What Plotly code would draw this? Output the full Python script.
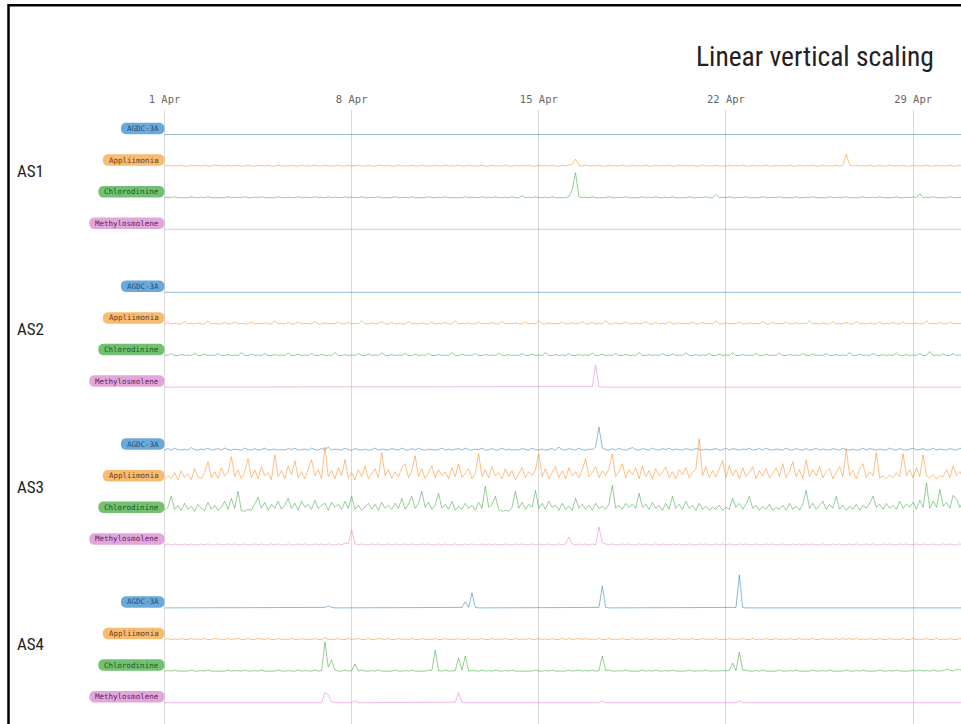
import plotly.graph_objects as go
import pandas as pd

# ---------------- data ----------------
START = "2016-04-01 00:00"
N_POINTS = 240
STEP = "3h"

GROUPS = ["AS1", "AS2", "AS3", "AS4"]
CHEMICALS = ["AGDC-3A", "Appliimonia", "Chlorodinine", "Methylosmolene"]
TICK_VALUES = ["2016-04-01", "2016-04-08", "2016-04-15", "2016-04-22", "2016-04-29"]
TICK_LABELS = ["1 Apr", "8 Apr", "15 Apr", "22 Apr", "29 Apr"]
TITLE = "Linear vertical scaling"

AS1_AGDC = [
    0,0,0,0,0,0,0,0,0,0,0,0,0,0,0,0,0,0,0,0,0,0,0,0,
    0,0,0,0,0,0,0,0,0,0,0,0,0,0,0,0,0,0,0,0,0,0,0,0,
    0,0,0,0,0,0,0,0,0,0,0,0,0,0,0,0,0,0,0,0,0,0,0,0,
    0,0,0,0,0,0,0,0,0,0,0,0,0,0,0,0,0,0,0,0,0,0,0,0,
    0,0,0,0,0,0,0,0,0,0,0,0,0,0,0,0,0,0,0,0,0,0,0,0,
    0,0,0.5,0,0,0,0,0,0,0,0,0,0,0,0,0,0,0,0,0,0,0,0,0,
    0,0,0,0,0,0,0,0,0,0,0,0,0,0,0,0,0,0,0,0,0,0,0,0,
    0,0,0,0,0,0,0,0,0,0,0,0,0,0,0,0,0,0,0,0,0,0,0,0,
    0,0,0,0,0,0,0,0,0,0,0,0,0,0,0,0,0,0,0,0,0,0,0,0,
    0,0,0,0,0,0,0,0,0,0,0,0,0,0,0,0,0,0,0,0,0,0,0,0,
]
AS1_APPL = [
    0,1,0,0.5,0,1,0,0,1,0,0.5,0,1,0,0,1,0.5,0,0,1,0,0.5,1,0,
    0,1,0,0,1,0.5,0,1,0,0,1,0,0.5,0,1,0,0,1,0,0.5,0,1,0,0,
    1,0,0.5,0,1,0,0,1,0,0.5,1,0,0,1,0,0,1,0.5,0,1,0,0,1,0,
    0.5,0,1,0,0,1,0,0.5,0,1,0,0,1,0,0.5,0,1,0,0,1,0,0.5,0,1,
    0,0,1,0,0.5,0,1,0,0,1,0,0.5,0,1,0,0,1,0,0.5,0,1,0,0,1,
    0,1,2,7,1,0,1,0,0.5,0,1,0,0,1,0,0.5,0,1,0,0,1,0,0.5,0,
    1,0,0,1,0,0.5,0,1,0,0,1,0,0.5,0,1,0,0,1,0,0.5,0,1,0,0,
    0,1,0,0.5,0,1,0,0,1,0,0.5,0,1,0,0,1,0,0.5,0,1,0,0,1,0,
    0.5,0,1,0,0,1,0,0.5,0,1,0,1,12,1,0,1,0,0.5,0,1,0,0,1,0,
    0,1,0,0.5,0,1,0,0,1,0,0.5,0,1,0,0,1,0,0.5,0,1,0,0,1,0,
]
AS1_CHLO = [
    0,0.5,0,1,0,0,0.5,0,1,0,0,0.5,0,1,0,0,0.5,0,0,1,0,0.5,0,0,
    1,0,0,0.5,0,1,0,0,0.5,0,1,0,0,0.5,0,0,1,0,0.5,0,0,1,0,0.5,
    0,1,0,0.5,0,0,1,0,0.5,0,0,1,0,0,0.5,0,1,0,0,0.5,0,1,0,0,
    0.5,0,1,0,0,0.5,0,1,0,0,0.5,0,1,0,0,0.5,0,0,1,0,0.5,0,0,1,
    0,0.5,0,1,0,0,0.5,0,1,0,0,2,0,0.5,0,1,0,0,0.5,0,1,0,0,0.5,
    0,1,8,25,1,0,0.5,0,1,0,0,0.5,0,1,0,0,0.5,0,1,0,0,0.5,0,1,
    0,0.5,0,1,0,0,0.5,0,1,0,0,0.5,0,1,0,0,0.5,0,1,0,0,3,0,0.5,
    0,1,0,0,0.5,0,1,0,0,0.5,0,1,0,0,0.5,0,1,0,0,0.5,0,1,0,0,
    0.5,0,1,0,0,0.5,0,1,0,0,0.5,0,1,0,0,0.5,0,1,0,0,0.5,0,1,0,
    0,0.5,0,1,0,0,0.5,0,1,0,4,0,0.5,0,1,0,0,0.5,0,1,0,0,0.5,0,
]
AS1_METH = [
    0,0,0,0,0,0,0,0,0,0,0,0,0,0,0,0,0,0,0,0,0,0,0,0,
    0,0,0,0,0,0,0,0,0,0,0,0,0,0,0,0,0,0,0,0,0,0,0,0,
    0,0,0,0,0,0,0,0,0,0,0,0,0,0,0,0,0,0,0,0,0,0,0,0,
    0,0,0,0,0,0,0,0,0,0,0,0,0,0,0,0,0,0,0,0,0,0,0,0,
    0,0,0,0,0,0,0,0,0,0,0,0,0,0,0,0,0,0,0,0,0,0,0,0,
    0,0,0,0,0,0,0,0,0,0,0,0,0,0,0,0,0,0,0,0,0,0,0,0,
    0,0,0,0,0,0,0,0,0,0,0,0,0,0,0,0,0,0,0,0,0,0,0,0,
    0,0,0,0,0,0,0,0,0,0,0,0,0,0,0,0,0,0,0,0,0,0,0,0,
    0,0,0,0,0,0,0,0,0,0,0,0,0,0,0,0,0,0,0,0,0,0,0,0,
    0,0,0,0,0,0,0,0,0,0,0,0,0,0,0,0,0,0,0,0,0,0,0,0,
]

AS2_AGDC = [
    0,0,0,0,0,0,0,0,0,0,0,0,0.5,0,0,0,0,0,0,0,0,0,0,0,
    0,0,0,0,0,0,0,0,0,0,0,0,0,0,0,0,0,0,0,0,0,0.5,0,0,
    0,0,0,0,0,0,0,0,0,0,0,0,0,0,0,0,0,0,0,0,0,0,0,0,
    0,0,0,0,0,0,0,0,0.5,0,0,0,0,0,0,0,0,0,0,0,0,0,0,0,
    0,0,0,0,0,0,0,0,0,0,0,0,0,0,0,0,0,0,0,0,0,0,0,0,
    0,0,0,0,0,0,0,0,0,0,0.5,0,0,0,0,0,0,0,0,0,0,0,0,0,
    0,0,0,0,0,0,0,0,0,0,0,0,0,0,0,0,0,0,0,0,0,0,0,0,
    0,0,0,0,0,0,0,0,0,0,0,0,0,0,0,0,0,0,0,0.5,0,0,0,0,
    0,0,0,0,0,0,0,0,0,0,0,0,0,0,0,0,0,0,0,0,0,0,0,0,
    0,0,0,0,0,0,0,0.5,0,0,0,0,0,0,0,0,0,0,0,0,0,0,0,0,
]
AS2_APPL = [
    0,1.5,0,0.5,0,0,2.5,0,0.5,0,1,0,0,3,0,0.5,0,0,1.5,0,0,2,0,0.5,
    0,0,2,0,0.5,0,1,0,0,3,0,0.5,0,1.5,0,0,2,0,0.5,0,0,2.5,0,0,
    1,0,0.5,0,2,0,0,1.5,0,0.5,0,3.5,0,0,1,0,0.5,2,0,0,1.5,0,0.5,0,
    0,2.5,0,0.5,0,1,0,0,2,0,0.5,0,1.5,0,0,3,0,0.5,0,1,0,0,2,0,
    0.5,0,1.5,0,0,2.5,0,0.5,0,1,0,0,2,0,0.5,0,3,0,0,1,0,0.5,0,2,
    0,0,1,0,0.5,2,0,0,1.5,0,0.5,0,3,0,0,1,0,0.5,2,0,0,1,0,0.5,
    2,0,0,1.5,0,0.5,0,2.5,0,0,1,0,0.5,0,2,0,0,1.5,0,0.5,0,3,0,0,
    1,0,0.5,0,2,0,0,1,0,0.5,0,2.5,0,0,1.5,0,0.5,0,2,0,0,1,0,0.5,
    0,3,0,0.5,0,1,0,0,2,0,0.5,0,1.5,0,0,2.5,0,0.5,0,1,0,0,2,0,
    0.5,0,1.5,0,0,2,0,0.5,0,1,0,0,3,0,0.5,0,1.5,0,0,2,0,0.5,0,1,
]
AS2_CHLO = [
    0.5,0,2,0,0,1,0,0.5,0,2.5,0,0,1.5,0,0.5,0,2,0,0,1,0,0.5,0,3,
    0,0,1.5,0,0.5,0,2,0,0,1,0,0.5,0,2.5,0,0,1.5,0,0.5,0,2,0,0,1,
    0,0.5,0,3,0,0,1,0,0.5,0,2,0,0,1.5,0,0.5,0,2.5,0,0,1,0,0.5,0,
    2,0,0,1.5,0,0.5,0,2,0,0,1,0,0.5,0,3,0,0,1.5,0,0.5,0,2,0,0,
    1,0,0.5,0,2.5,0,0,1,0,0.5,0,2,0,0,1.5,0,0.5,0,3,0,0,1,0,0.5,
    0,2,0,0,1,0,0.5,0,2.5,0,0,1.5,0,0.5,0,2,0,0,1,0,0.5,0,3,0,
    0,1,0,0.5,0,2,0,0,1.5,0,0.5,0,2.5,0,0,1,0,0.5,0,2,0,0,1.5,0,
    0.5,0,3,0,0,1,0,0.5,0,2,0,0,1.5,0,0.5,0,2.5,0,0,1,0,0.5,0,2,
    0,0,1.5,0,0.5,0,2,0,0,1,0,0.5,0,3,0,0,1.5,0,0.5,0,2,0,0,1,
    0,0.5,0,2.5,0,0,1,0,0.5,0,2,0,0,4,0,0.5,0,1.5,0,0,2,0,0.5,0,
]
AS2_METH = [
    0,0,0,0,0,0,0,0,0,0,0,0,0,0,0,0,0,0,0,0,0,0,0,0,
    0,0,0,0,0,0,0,0,0,0,0,0,0,0,0,0,0,0,0,0,0,0,0,0,
    0,0,0,0,0,0,0,0,0,0,0,0,0,0,0,0,0,0,0,0,0,0,0,0,
    0,0,0,0,0,0,0,0,0,0,0,0,0,0,0,0,0,0,0,0,0,0,0,0,
    0,0,0,0,0,0,0,0,0,0,0,0,0,0,0,0,0,0,0,0,0,0,0,0,
    0,0,0,0,0,0,0,0,0.5,22,0.5,0,0,0,0,0,0,0,0,0,0,0,0,0,
    0,0,0,0,0,0,0,0,0,0,0,0,0,0,0,0,0,0,0,0,0,0,0,0,
    0,0,0,0,0,0,0,0,0,0,0,0,0,0,0,0,0,0,0,0,0,0,0,0,
    0,0,0,0,0,0,0,0,0,0,0,0,0,0,0,0,0,0,0,0,0,0,0,0,
    0,0,0,0,0,0,0,0,0,0,0,0,0,0,0,0,0,0,0,0,0,0,0,0,
]

AS3_AGDC = [
    0,1.5,0,2,0.5,0,1,0,2.5,0.5,0,1,0.5,2,0,0.5,1.5,0,2,0.5,0,1,0.5,0,
    2,0.5,0,1.5,0,0.5,2,0,0.5,1,0,0.5,0,1.5,0.5,2,0,0.5,1,0,2,0.5,0,1.5,
    0.5,3,0,1,0.5,0,2,0.5,0,1.5,0.5,0,1,0,0.5,2,0,1,0.5,0,1.5,0.5,0,2,
    0.5,0,1.5,0,2,0.5,0,1,0.5,0,0.5,2,0,1,0,0.5,1.5,0,2,0.5,0,1,0.5,2,
    0,0.5,1.5,0,0.5,2,0,1,0,0.5,0,1.5,0.5,0,2,0.5,0,1,0,0.5,1.5,0,3,0.5,
    0,1.5,0.5,0,2,0.5,0,1,0.5,3,23,2,0.5,0,1.5,0,2,0.5,0,1,2.5,0.5,0,1.5,
    0.5,0,2,0.5,0,1.5,0.5,2,0,1,0.5,0,1.5,0.5,0,2,0.5,0,1,0,0.5,1.5,0,0.5,
    2,0,1.5,0.5,0,1,0.5,2,0,0.5,1.5,0,2,0.5,0,1,0.5,0,2,0.5,0,1.5,0.5,0,
    1.5,0,0.5,2,0,1,0.5,0,1.5,0.5,0,2,0.5,0,1,0,0.5,2,0,1.5,0.5,0,1,0.5,
    0,2,0.5,0,1.5,0.5,0,1,2,0,0.5,1.5,0,0.5,2,0,1,0.5,0,1.5,0.5,0,2,0.5,
]
AS3_APPL = [
    2,6,3,9,2,11,4,8,2,13,5,3,9,20,4,10,3,14,6,9,25,5,12,3,
    10,23,4,12,3,15,6,9,2,27,5,11,3,16,7,21,4,10,3,13,22,6,12,3,
    35,5,11,3,14,6,22,4,9,2,12,5,16,3,8,13,4,29,6,12,3,10,5,14,
    18,4,11,26,5,13,3,9,16,4,12,6,10,3,14,5,18,4,9,13,3,8,28,5,
    12,4,15,6,9,3,13,5,11,2,8,14,4,10,6,12,28,5,13,3,9,15,4,11,
    3,14,6,10,4,12,23,5,9,15,4,11,6,13,28,5,10,18,4,12,7,14,3,16,
    5,11,3,13,6,9,15,4,10,3,12,7,14,4,9,13,43,6,15,4,11,5,13,21,
    4,16,6,12,3,14,5,9,15,3,11,6,13,4,8,14,5,18,4,10,20,5,12,3,
    22,5,12,6,15,4,10,13,3,9,15,5,33,6,11,3,13,18,4,10,6,29,4,6,
    3,7,4,9,5,28,6,12,4,14,5,27,6,4,7,3,6,5,12,4,16,6,10,4,
]
AS3_CHLO = [
    3,6,17,4,8,3,10,4,7,2,9,5,3,11,4,8,3,6,12,4,15,5,22,3,
    2,4,3,9,16,5,11,3,9,5,12,4,8,15,5,10,3,12,6,9,4,13,5,8,
    10,3,11,6,9,4,12,5,17,4,8,3,7,10,4,9,3,11,5,8,4,10,5,15,
    4,9,17,5,10,22,6,11,4,8,20,5,9,4,12,3,7,4,10,5,8,3,11,5,
    27,6,9,17,4,2,3,2,6,22,5,11,4,9,6,23,5,10,4,12,6,8,3,10,
    4,7,3,15,5,9,4,8,3,10,5,7,4,9,28,5,8,4,10,6,9,5,20,6,
    9,4,11,5,8,3,10,4,17,5,9,4,12,5,8,3,10,4,7,3,6,4,8,3,
    6,4,15,6,10,4,9,17,5,8,3,7,4,9,3,6,4,8,3,10,4,7,3,9,
    23,5,10,4,8,12,4,9,5,17,4,8,3,7,4,9,3,8,5,10,17,6,9,4,
    10,5,8,4,12,5,9,6,11,4,13,6,30,5,12,6,24,7,11,5,18,14,6,12,
]
AS3_METH = [
    0,1,0,1,0,0,1,0,1,0,0,1,0,1,0,0,1,0,0,1,0,1,0,0,
    1,0,0,1,0,1,0,0,1,0,1,0,0,1,0,0,1,0,1,0,0,1,0,1,
    0,1,0,0,1,0,2,1,15,1,0,1,0,0,1,0,1,0,0,1,0,1,0,0,
    1,0,1,0,0,1,0,1,0,0,1,0,1,0,0,1,0,0,1,0,1,0,0,1,
    0,1,0,1,0,0,1,0,0,1,0,1,0,0,1,0,1,0,0,1,0,0,1,0,
    1,8,1,0,1,0,1,0,1,0,18,2,1,0,1,0,0,1,0,1,0,0,1,0,
    1,0,0,1,0,1,0,0,1,0,1,0,0,1,0,0,1,0,1,0,0,1,0,1,
    0,1,0,0,1,0,1,0,0,1,0,0,1,0,1,0,0,1,0,0,1,0,1,0,
    1,0,1,0,0,1,0,0,1,0,1,0,0,1,0,1,0,0,1,0,1,0,0,1,
    0,1,0,0,1,0,1,0,0,1,0,1,0,0,1,0,0,1,0,1,0,0,1,0,
]

AS4_AGDC = [
    0,0,0,0,0,0,0,0,0,0,0,0,0,0,0,0,0,0,0,0,0,0,0,0,
    0,0,0,0,0,0,0,0,0,0,0,0,0,0,0,0,0,0,0,0,0,0,0,0,
    0.5,2,0.5,0,0,0,0,0,0,0,0,0,0,0,0,0,0,0,0,0,0,0,0,0,
    0,0,0,0,0,0,0,0,0,0,0,0,0,0,0,0,0,0.5,6,0.5,15,0.5,0,0,
    0,0,0,0,0,0,0,0,0,0,0,0,0,0,0,0,0,0,0,0,0,0,0,0,
    0,0,0,0,0,0,0,0,0,0,0.5,22,0.5,0,0,0,0,0,0,0,0,0,0,0,
    0,0,0,0,0,0,0,0,0,0,0,0,0,0,0,0,0,0,0,0,0,0,0,0,
    0,0,0,0.5,33,0.5,0,0,0,0,0,0,0,0,0,0,0,0,0,0,0,0,0,0,
    0,0,0,0,0,0,0,0,0,0,0,0,0,0,0,0,0,0,0,0,0,0,0,0,
    0,0,0,0,0,0,0,0,0,0,0,0,0,0,0,0,0,0,0,0,0,0,0,0,
]
AS4_APPL = [
    0,1,0,0.5,0,1,0,0,1,0,0.5,0,1,0,0,1,0.5,0,0,1,0,0.5,1,0,
    0,1,0,0,1,0.5,0,1,0,0,1,0,0.5,0,1,0,0,1,0,0.5,0,1,0,0,
    2,0,0.5,0,1,0,0,1,0,0.5,1,0,0,1,0,0,1,0.5,0,1,0,0,1,0,
    0.5,0,1,0,0,1,0,0.5,0,1,0,0,1,0,0.5,0,1,0,0,1,0,0.5,0,1,
    0,0,1,0,0.5,0,1,0,0,1,0,0.5,0,1,0,0,1,0,0.5,0,1,0,0,1,
    0,1,0,0.5,1,0,1,0,0.5,0,1,0,0,1,0,0.5,0,1,0,0,1,0,0.5,0,
    1,0,0,1,0,0.5,0,1,0,0,1,0,0.5,0,1,0,0,1,0,0.5,0,1,0,0,
    0,1,0,0.5,0,1,0,0,1,0,0.5,0,1,0,0,1,0,0.5,0,1,0,0,1,0,
    0.5,0,1,0,0,1,0,0.5,0,1,0,1,0,1,0,1,0,0.5,0,1,0,0,1,0,
    0,1,0,0.5,0,1,0,0,1,0,0.5,0,1,0,0,1,0,0.5,0,1,0,0,1,0,
]
AS4_CHLO = [
    0,0.5,0,1,0,0,0.5,0,1,0,0,0.5,0,1,0,0,0.5,0,0,1,0,0.5,0,0,
    1,0,0,0.5,0,1,0,0,0.5,0,1,0,0,0.5,0,0,1,0,0.5,0,0,1,0,0.5,
    29,4,11,1,0,0,1,0,0.5,7,0,1,0,0,0.5,0,1,0,0,0.5,0,1,0,0,
    0.5,0,1,0,0,0.5,0,1,0.5,21,0.5,0,1,0,0,0.5,13,1,15,0,0.5,0,0,1,
    0,0.5,0,1,0,0,0.5,0,1,0,0,0.5,0,0.5,0,1,0,0,0.5,0,1,0,0,0.5,
    0,1,0,0.5,1,0,0.5,0,1,0,0.5,15,0.5,1,0,0,0.5,0,1,0,0,0.5,0,1,
    0,0.5,0,1,0,0,0.5,0,1,0,0,0.5,0,1,0,0,0.5,0,1,0,0,0.5,0,0.5,
    0,0.5,8,0.5,19,1,1,0,0,0.5,0,1,0,0,0.5,0,1,0,0,0.5,0,1,0,0,
    0.5,0,1,0,0,0.5,0,1,0,0,0.5,0,1,0,0,0.5,0,1,0,0,0.5,0,1,0,
    0,0.5,0,1,0,0,0.5,0,1,0,1,0,0.5,0,1,0,0,0.5,2,1,0,2,1,2,
]
AS4_METH = [
    0,0,0,0,0,0,0,0,0,0,0,0,0,0,0,0,0,0,0,0,0,0,0,0,
    0,0,0,0,0,0,0,0,0,0,0,0,0,0,0,0,0,0,0,0,0,0,0,0,
    10,8,0.5,0,0,0,0,0,0,2,0,0,0,0,0,0,0,0,0,0,0,0,0,0,
    0,0,0,0,0,0,0,0,0,0,0,0,0,0,0,0.5,10,0.5,0,0,0,0,0,0,
    0,0,0,0,0,0,0,0,0,0,0,0,0,0,0,0,0,0,0,0,0,0,0,0,
    0,0,0,0,0,0,0,0,0,0,0,2,0,0,0,0,0,0,0,0,0,0,0,0,
    0,0,0,0,0,0,0,0,0,0,0,0,0,0,0,0,0,0,0,0,0,0,0,0,
    0,0,0,0,2,0,0,0,0,0,0,0,0,0,0,0,0,0,0,0,0,0,0,0,
    0,0,0,0,0,0,0,0,0,0,0,0,0,0,0,0,0,0,0,0,0,0,0,0,
    0,0,0,0,0,0,0,0,0,0,0,0,0,0,0,0,0,0,0,0,0,0,0,0,
]

SERIES = {
    "AS1": [AS1_AGDC, AS1_APPL, AS1_CHLO, AS1_METH],
    "AS2": [AS2_AGDC, AS2_APPL, AS2_CHLO, AS2_METH],
    "AS3": [AS3_AGDC, AS3_APPL, AS3_CHLO, AS3_METH],
    "AS4": [AS4_AGDC, AS4_APPL, AS4_CHLO, AS4_METH],
}
for g, lst in SERIES.items():
    for c, v in zip(CHEMICALS, lst):
        assert len(v) == N_POINTS, (g, c, len(v))

# ---------------- styling ----------------
LINE_COLORS = ["#1f77b4", "#ff7f0e", "#2ca02c", "#e377c2"]
BADGE_BG = ["#6aaad8", "#f8bb72", "#72c172", "#e2a6dc"]
BADGE_FG = ["#1d4e7c", "#6a3b10", "#1b561b", "#5b1f56"]
NARROW = "Liberation Sans Narrow, Arial Narrow, Roboto Condensed, DejaVu Sans Condensed, sans-serif"
MONO = "DejaVu Sans Mono, Liberation Mono, monospace"

W, H = 961, 724
def fx(p):
    return p / W
def fy(p):
    return 1 - p / H

X_LEFT_PX = 163.4
ROW0, GROUP_STEP, ROW_STEP = 134.5, 157.8, 31.6
ROW_SPAN = 48  # px of vertical room for each row (spikes may rise above next row)
BADGE_RIGHT, BADGE_H, CHAR_W = 164.5, 11.5, 4.52

times = pd.date_range(START, periods=N_POINTS, freq=STEP)

def pill(x1, yc, w, h):
    x0 = x1 - w
    y0, y2 = yc - h / 2, yc + h / 2
    r = h / 2
    pts = lambda x, y: f"{fx(x):.5f},{fy(y):.5f}"
    return (f"M {pts(x0 + r, y0)} L {pts(x1 - r, y0)} "
            f"Q {pts(x1, y0)} {pts(x1, yc)} Q {pts(x1, y2)} {pts(x1 - r, y2)} "
            f"L {pts(x0 + r, y2)} Q {pts(x0, y2)} {pts(x0, yc)} "
            f"Q {pts(x0, y0)} {pts(x0 + r, y0)} Z")

fig = go.Figure()
# invisible anchor trace so the grid / tick subplot is drawn
fig.add_trace(go.Scatter(x=[times[0]], y=[0.5], mode="markers",
                         marker=dict(opacity=0, size=1), hoverinfo="skip",
                         xaxis="x", yaxis="y"))

layout = dict(
    width=W, height=H, autosize=False,
    margin=dict(l=0, r=0, t=0, b=0, pad=0, autoexpand=False),
    paper_bgcolor="white",
    plot_bgcolor="rgba(0,0,0,0)",
    showlegend=False,
    hovermode=False,
    xaxis=dict(
        type="date", domain=[fx(X_LEFT_PX), 1], anchor="y",
        range=["2016-03-31 23:00", "2016-04-30 19:00"],
        side="top", tickvals=TICK_VALUES, ticktext=TICK_LABELS,
        ticks="", showline=False, zeroline=False, automargin=False,
        showgrid=True, gridcolor="#d9d9d9", gridwidth=1,
        tickfont=dict(family=MONO, size=10.5, color="#666666"),
        ticklabelstandoff=4,
        fixedrange=True,
    ),
    yaxis=dict(domain=[0, fy(110)], range=[0, 1], visible=False, fixedrange=True,
               anchor="x", automargin=False),
    xaxis2=dict(matches="x", domain=[fx(X_LEFT_PX), 1], anchor="y2", visible=False,
                showgrid=False, fixedrange=True, automargin=False),
)

annotations = []
shapes = []
n = 2
for k, g in enumerate(GROUPS):
    gbase = ROW0 + k * GROUP_STEP
    annotations.append(dict(
        text=g, xref="paper", yref="paper", x=fx(15), y=fy(gbase + 36.5),
        xanchor="left", yanchor="middle", showarrow=False,
        font=dict(family=NARROW, size=17, color="#222222"),
    ))
    for j, chem in enumerate(CHEMICALS):
        base = gbase + j * ROW_STEP
        layout[f"yaxis{n}"] = dict(
            domain=[fy(base + 2), fy(base + 2 - ROW_SPAN)],
            range=[-2, ROW_SPAN - 2], visible=False, fixedrange=True, anchor="x2",
            automargin=False,
        )
        fig.add_trace(go.Scatter(
            x=times, y=SERIES[g][j], mode="lines", xaxis="x2", yaxis=f"y{n}",
            line=dict(color=LINE_COLORS[j], width=1), opacity=0.5,
            hoverinfo="skip",
        ))
        bw = len(chem) * CHAR_W + 12
        yc = base - 6
        shapes.append(dict(type="path", xref="paper", yref="paper",
                           path=pill(BADGE_RIGHT, yc, bw, BADGE_H),
                           fillcolor=BADGE_BG[j], line=dict(width=0), layer="above"))
        annotations.append(dict(
            text=chem, xref="paper", yref="paper",
            x=fx(BADGE_RIGHT - bw / 2), y=fy(yc), xanchor="center", yanchor="middle",
            showarrow=False,
            font=dict(family=MONO, size=7.5, color=BADGE_FG[j]),
        ))
        n += 1

annotations.append(dict(
    text=TITLE, xref="paper", yref="paper", x=fx(936), y=fy(57),
    xanchor="right", yanchor="middle", showarrow=False,
    font=dict(family=NARROW, size=27.5, color="#222222"),
))
shapes.append(dict(
    type="rect", xref="paper", yref="paper",
    x0=fx(8.5), x1=1.02, y0=-0.02, y1=fy(5.3),
    line=dict(color="black", width=2.5), fillcolor="rgba(0,0,0,0)", layer="above",
))
layout["annotations"] = annotations
layout["shapes"] = shapes
fig.update_layout(**layout)

fig.write_html("out.html", config={"displayModeBar": False, "staticPlot": True})
